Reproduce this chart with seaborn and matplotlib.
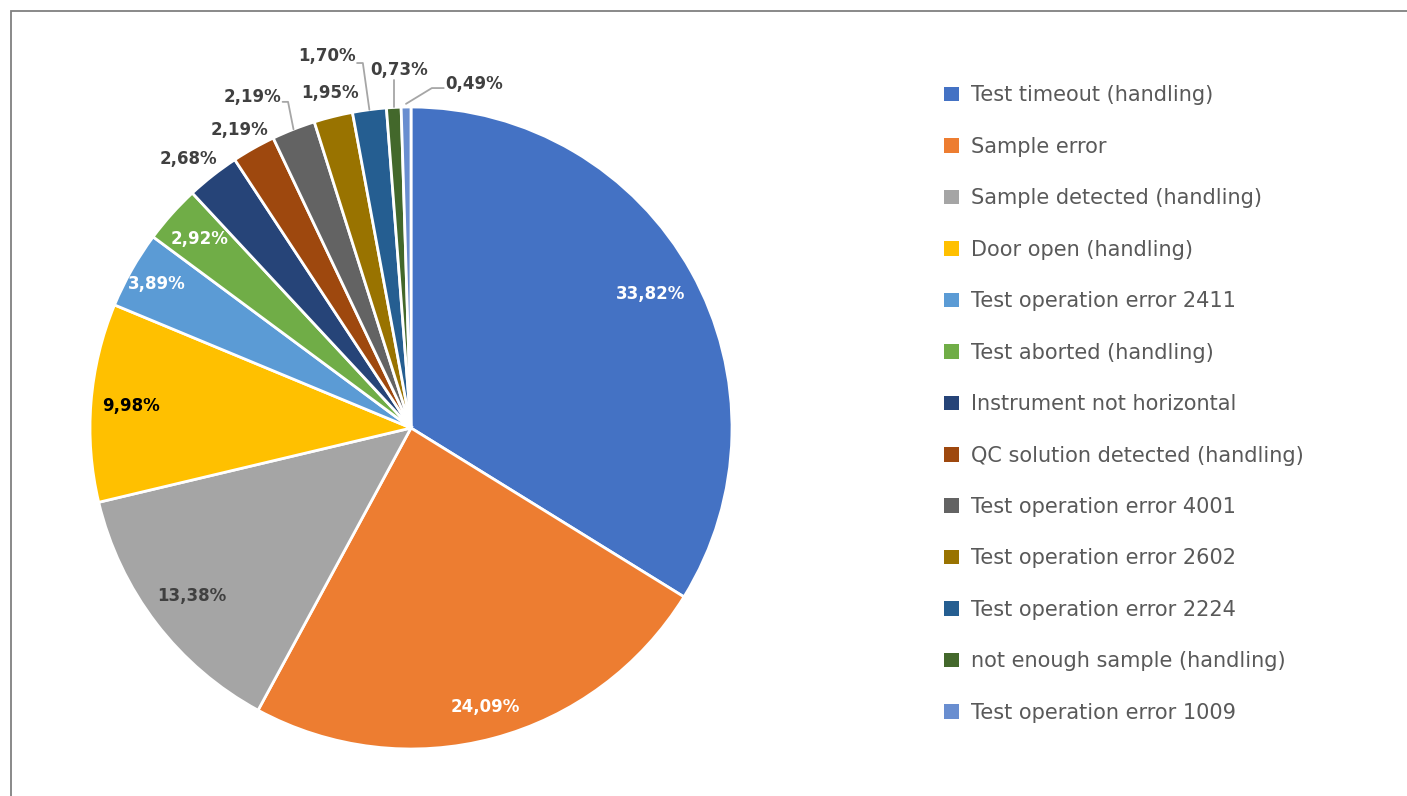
import numpy as np
import seaborn as sns
import matplotlib.pyplot as plt
from matplotlib.patches import Rectangle, Patch

# data
categories = [
    "Test timeout (handling)", "Sample error", "Sample detected (handling)",
    "Door open (handling)", "Test operation error 2411", "Test aborted (handling)",
    "Instrument not horizontal", "QC solution detected (handling)",
    "Test operation error 4001", "Test operation error 2602",
    "Test operation error 2224", "not enough sample (handling)",
    "Test operation error 1009",
]
shares = [33.82, 24.09, 13.38, 9.98, 3.89, 2.92, 2.68, 2.19, 2.19, 1.95, 1.70, 0.73, 0.49]
colors = ["#4472C4", "#ED7D31", "#A5A5A5", "#FFC000", "#5B9BD5", "#70AD47", "#264478",
          "#9E480E", "#636363", "#997300", "#255E91", "#43682B", "#698ED0"]

sns.set_theme(style="white")
plt.rcParams['font.family'] = ['DejaVu Sans']
palette = sns.color_palette(colors)

W, H = 1407, 796
fig = plt.figure(figsize=(W / 100, H / 100), dpi=100)
cx, cy, R = 411, 428, 321
lim = 1.3
side = 2 * lim * R
ax = fig.add_axes([(cx - side / 2) / W, (H - cy - side / 2) / H, side / W, side / H])

wedges, _ = ax.pie(shares, colors=palette, startangle=90, counterclock=False,
                   wedgeprops=dict(edgecolor="white", linewidth=2.0))
ax.set_xlim(-lim, lim)
ax.set_ylim(-lim, lim)
ax.axis("off")

def fmt(v):
    return f"{v:.2f}%".replace(".", ",")

def mid(w):
    return np.deg2rad((w.theta1 + w.theta2) / 2)

# labels inside the slice: (index, radius, colour)
inside = [(0, 0.855, "white"), (1, 0.9, "white"), (2, 0.86, "#404040"),
          (3, 0.875, "black"), (4, 0.91, "white"), (5, 0.885, "white")]
for i, r, c in inside:
    a = mid(wedges[i])
    ax.text(r * np.cos(a), r * np.sin(a), fmt(shares[i]), ha="center", va="center",
            fontsize=12, fontweight="bold", color=c)

dark = "#404040"
lead = "#A6A6A6"
# labels outside without leader lines
outside = {6: (-0.692, 0.838), 7: (-0.533, 0.928), 9: (-0.252, 1.044)}
for i, (x, y) in outside.items():
    ax.text(x, y, fmt(shares[i]), ha="center", va="center",
            fontsize=12, fontweight="bold", color=dark)

# labels with leader lines
def tip(i, r=1.0):
    a = mid(wedges[i])
    return r * np.cos(a), r * np.sin(a)

# 4001
ax.text(-0.405, 1.031, fmt(shares[8]), ha="right", va="center", fontsize=12,
        fontweight="bold", color=dark)
tx, ty = tip(8, 1.0)
ax.plot([-0.40, -0.383, tx], [1.016, 1.016, ty], color=lead, lw=1.3)
# 2224
ax.text(-0.172, 1.159, fmt(shares[10]), ha="right", va="center", fontsize=12,
        fontweight="bold", color=dark)
tx, ty = tip(10, 1.0)
ax.plot([-0.168, -0.150, tx], [1.137, 1.137, ty], color=lead, lw=1.3)
# not enough sample
ax.text(-0.037, 1.115, fmt(shares[11]), ha="center", va="center", fontsize=12,
        fontweight="bold", color=dark)
tx, ty = tip(11, 1.0)
ax.plot([tx, tx], [1.085, ty], color=lead, lw=1.3)
# 1009
ax.text(0.108, 1.072, fmt(shares[12]), ha="left", va="center", fontsize=12,
        fontweight="bold", color=dark)
tx, ty = tip(12, 1.01)
ax.plot([0.102, 0.065, tx], [1.059, 1.059, ty], color=lead, lw=1.3)

# legend
handles = [Patch(facecolor=c, edgecolor="none") for c in palette]
fig.legend(handles, categories, loc="upper left", bbox_to_anchor=(936 / W, 1 - 77 / H),
           frameon=False, fontsize=15, labelcolor="#595959", handlelength=0.7,
           handleheight=0.7, handletextpad=0.6, labelspacing=1.51, borderaxespad=0)

# chart frame
fig.add_artist(Rectangle((10.5 / W, -0.1), 1.5, 1.1 - 11 / H, transform=fig.transFigure,
                         fill=False, edgecolor="#808080", linewidth=1.3))

fig.savefig("out.png", dpi=100)
